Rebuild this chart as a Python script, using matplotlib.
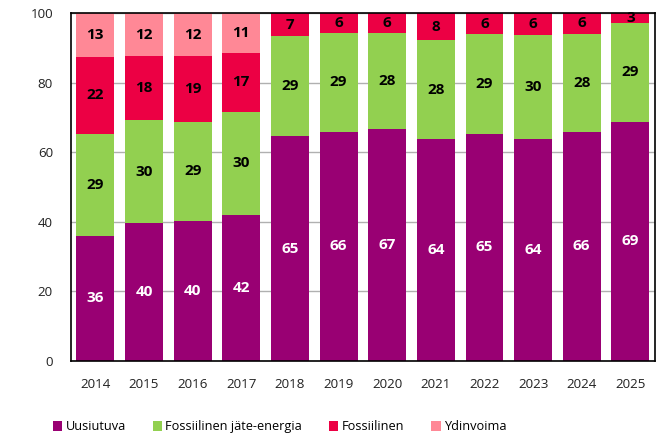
import numpy as np
import matplotlib
matplotlib.use("Agg")
import matplotlib.pyplot as plt

plt.rcParams['font.family'] = ['Open Sans', 'DejaVu Sans']

years = ["2014", "2015", "2016", "2017", "2018", "2019",
         "2020", "2021", "2022", "2023", "2024", "2025"]
uusiutuva = [35.9, 39.6, 40.2, 42.0, 64.6, 65.8, 66.6, 63.8, 65.3, 63.8, 65.9, 68.7]
jate = [29.4, 29.6, 28.6, 29.6, 28.7, 28.6, 27.6, 28.4, 28.6, 30.0, 28.2, 28.6]
fossiilinen = [22.1, 18.4, 18.9, 17.0, 6.7, 5.6, 5.8, 7.8, 6.1, 6.2, 5.9, 2.7]
ydinvoima = [12.6, 12.4, 12.3, 11.4, 0, 0, 0, 0, 0, 0, 0, 0]

series = [
    ("Uusiutuva", uusiutuva, "#990073", "white"),
    ("Fossiilinen jäte-energia", jate, "#92d050", "black"),
    ("Fossiilinen", fossiilinen, "#ec0044", "black"),
    ("Ydinvoima", ydinvoima, "#ff8896", "black"),
]

fig = plt.figure(figsize=(6.64, 4.38), dpi=100)
ax = fig.add_axes([0.107, 0.176, 0.879, 0.794])

x = np.arange(len(years))
bottom = np.zeros(len(years))
for name, vals, col, tcol in series:
    vals = np.array(vals)
    ax.bar(x, vals, 0.78, bottom=bottom, color=col, label=name, zorder=2)
    for xi, b, v in zip(x, bottom, vals):
        if v > 0:
            ax.text(xi, b + v / 2, f"{v:.0f}", ha="center", va="center",
                    color=tcol, fontsize=11, fontweight="bold", zorder=3)
    bottom += vals

ax.set_xlim(-0.5, 11.5)
ax.set_ylim(0, 100)
ax.set_yticks([0, 20, 40, 60, 80, 100])
ax.set_xticks(x)
ax.set_xticklabels(years)
ax.tick_params(length=0, labelsize=9.6, colors="#222222")
ax.tick_params(axis="y", pad=13)
ax.tick_params(axis="x", pad=12)
ax.yaxis.grid(True, color="#b0b0b0", linewidth=1, zorder=0)
for s in ax.spines.values():
    s.set_color("black")
    s.set_linewidth(1.2)

fig.legend(loc="lower left", bbox_to_anchor=(0.062, -0.015), ncol=4, frameon=False,
           fontsize=9.2, handlelength=0.75, handleheight=0.8, handletextpad=0.25,
           columnspacing=2.1)

fig.savefig("out.png", dpi=100)
